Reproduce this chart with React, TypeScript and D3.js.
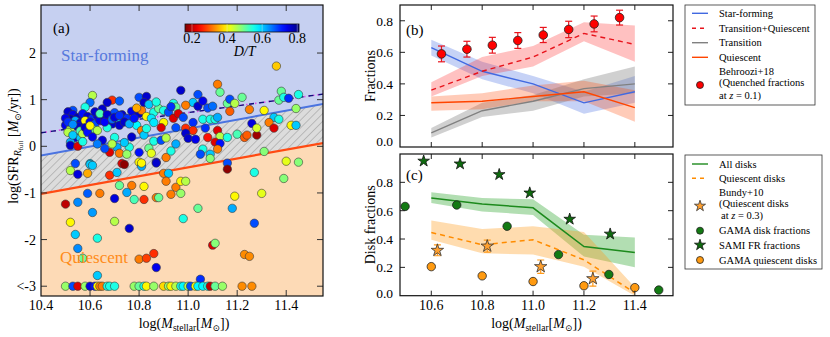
import React from 'react';
import * as d3 from 'd3';

// ---- panel (a): galaxies [log Mstar, log SFR, D/T]
const galaxies: [number, number, number][] = [
  [10.61, 1.09, 0.45], [10.60, 0.94, 0.66], [10.58, 0.84, 0.55], [10.69, 0.99, 0.27], [10.72, 0.97, 0.67],
  [10.67, 0.94, 0.76], [10.80, 1.05, 0.68], [10.83, 1.07, 0.76], [10.82, 0.94, 0.76], [10.97, 1.20, 0.76],
  [10.94, 0.92, 0.55], [10.95, 0.84, 0.50], [10.53, 0.77, 0.68], [10.51, 0.74, 0.76], [10.53, 0.68, 0.74],
  [10.55, 0.62, 0.77], [10.57, 0.70, 0.72], [10.59, 0.64, 0.76], [10.61, 0.60, 0.70], [10.63, 0.66, 0.75],
  [10.52, 0.58, 0.78], [10.54, 0.55, 0.62], [10.56, 0.50, 0.76], [10.58, 0.55, 0.40], [10.60, 0.52, 0.74],
  [10.62, 0.48, 0.68], [10.50, 0.45, 0.74], [10.52, 0.38, 0.45], [10.55, 0.42, 0.76], [10.64, 0.56, 0.74],
  [10.66, 0.60, 0.77], [10.68, 0.65, 0.72], [10.70, 0.72, 0.68], [10.65, 0.80, 0.76], [10.73, 0.68, 0.76],
  [10.75, 0.60, 0.70], [10.71, 0.55, 0.62], [10.69, 0.48, 0.76], [10.67, 0.40, 0.55], [10.77, 0.75, 0.74],
  [10.80, 0.70, 0.76], [10.81, 0.77, 0.32], [10.83, 0.64, 0.40], [10.86, 0.73, 0.55], [10.88, 0.81, 0.50],
  [10.90, 0.77, 0.55], [10.92, 0.73, 0.68], [10.94, 0.60, 0.22], [10.90, 0.51, 0.40], [10.95, 0.40, 0.68],
  [10.89, 0.40, 0.22], [10.85, 0.60, 0.58], [10.86, 0.51, 0.58], [10.79, 0.45, 0.57], [10.81, 0.34, 0.32],
  [10.61, 0.37, 0.50], [10.63, 0.34, 0.45], [10.72, 0.45, 0.76], [10.51, 0.30, 0.45], [10.54, 0.19, 0.75],
  [10.56, 0.19, 0.60], [10.52, 0.09, 0.62], [10.52, 0.02, 0.76], [10.55, 0.00, 0.22], [10.65, 0.13, 0.75],
  [10.70, 0.19, 0.55], [10.76, -0.02, 0.55], [10.71, -0.02, 0.62], [10.68, -0.13, 0.22], [10.72, -0.15, 0.32],
  [10.75, -0.17, 0.47], [10.80, -0.13, 0.72], [10.84, -0.04, 0.50], [10.86, 0.11, 0.55], [10.89, 0.13, 0.68],
  [10.91, -0.24, 0.32], [10.80, -0.34, 0.40], [10.87, -0.34, 0.75], [10.73, -0.37, 0.22], [10.54, -0.37, 0.68],
  [10.60, -0.37, 0.60], [10.82, 0.24, 0.60], [10.91, 0.18, 0.45], [10.83, 0.38, 0.55],
  [10.50, 0.60, 0.74], [10.51, 0.52, 0.70], [10.53, 0.47, 0.64], [10.56, 0.33, 0.52], [10.57, 0.27, 0.45],
  [10.58, 0.40, 0.76], [10.59, 0.30, 0.72], [10.60, 0.44, 0.40], [10.62, 0.74, 0.76], [10.64, 0.70, 0.52],
  [10.66, 0.52, 0.73], [10.67, 0.68, 0.76], [10.69, 0.58, 0.66], [10.70, 0.62, 0.75], [10.72, 0.66, 0.70],
  [10.74, 0.52, 0.76], [10.76, 0.48, 0.62], [10.78, 0.60, 0.72], [10.79, 0.82, 0.35], [10.84, 0.90, 0.60],
  [10.87, 0.95, 0.55], [10.93, 0.85, 0.70], [10.96, 0.70, 0.22], [10.98, 0.62, 0.68], [10.53, 0.24, 0.60],
  [10.57, 0.10, 0.55], [10.61, 0.20, 0.74], [10.63, 0.05, 0.65], [10.66, -0.05, 0.68], [10.69, 0.05, 0.45],
  [10.74, 0.08, 0.60], [10.77, 0.20, 0.76], [10.85, -0.15, 0.42], [10.93, -0.10, 0.55], [10.95, 0.05, 0.62],
  [11.12, 1.33, 0.32], [11.13, 1.16, 0.50], [11.04, 1.11, 0.68], [11.02, 0.94, 0.60], [10.99, 0.88, 0.32],
  [11.04, 0.86, 0.76], [11.06, 0.97, 0.74], [11.08, 0.82, 0.68], [11.10, 0.86, 0.66], [11.16, 0.92, 0.50],
  [11.17, 1.01, 0.68], [11.19, 0.92, 0.45], [11.22, 1.05, 0.50], [11.17, 0.75, 0.30], [11.25, 0.79, 0.32],
  [11.31, 0.77, 0.40], [11.37, 0.99, 0.50], [11.38, 1.18, 0.50], [11.39, 1.05, 0.55], [11.41, 1.03, 0.70],
  [11.45, 1.11, 0.55], [11.44, 0.81, 0.47], [11.35, 0.62, 0.60], [11.37, 0.58, 0.55], [11.33, 0.51, 0.32],
  [11.35, 0.39, 0.22], [11.42, 0.45, 0.40], [11.44, 0.45, 0.60], [11.02, 0.51, 0.70], [11.06, 0.58, 0.55],
  [11.09, 0.58, 0.55], [11.11, 0.58, 0.55], [11.12, 0.62, 0.62], [10.99, 0.39, 0.27], [11.02, 0.34, 0.27],
  [11.07, 0.39, 0.70], [11.12, 0.34, 0.22], [10.99, 0.28, 0.76], [11.00, 0.17, 0.76], [11.03, 0.15, 0.74],
  [11.08, 0.19, 0.25], [11.13, 0.21, 0.45], [11.11, 0.09, 0.22], [11.13, 0.06, 0.72], [11.16, 0.19, 0.55],
  [11.20, 0.26, 0.52], [11.23, 0.19, 0.30], [11.24, 0.24, 0.30], [11.28, 0.24, 0.18], [11.26, 0.49, 0.75],
  [11.28, 0.39, 0.43], [11.06, -0.06, 0.55], [11.05, -0.17, 0.68], [11.09, -0.17, 0.60], [11.12, -0.06, 0.32],
  [11.09, -0.26, 0.48], [11.31, -0.11, 0.48], [11.36, 1.72, 0.37],
  [10.52, -0.52, 0.45], [10.55, -0.60, 0.75], [10.59, -0.58, 0.35], [10.60, -0.39, 0.60], [10.61, -0.41, 0.60],
  [10.74, -0.39, 0.17], [10.68, -0.62, 0.27], [10.71, -0.56, 0.60], [10.81, -0.43, 0.62], [10.81, -0.36, 0.40],
  [10.87, -0.36, 0.76], [10.90, -0.58, 0.32], [10.92, -0.58, 0.60], [10.72, -0.84, 0.50], [10.77, -0.84, 0.32],
  [10.82, -0.86, 0.40], [10.75, -0.99, 0.62], [10.78, -1.14, 0.52], [10.82, -1.14, 0.27], [10.87, -1.10, 0.32],
  [10.88, -1.10, 0.50], [10.91, -0.75, 0.32], [10.95, -0.88, 0.32], [10.97, -0.75, 0.40], [10.97, -1.01, 0.47],
  [10.93, -1.03, 0.32], [10.59, -1.01, 0.67], [10.64, -1.01, 0.32], [10.70, -1.12, 0.75], [10.50, -1.24, 0.20],
  [10.55, -1.20, 0.64], [10.61, -1.42, 0.63], [10.52, -1.63, 0.40], [10.70, -1.61, 0.45], [10.76, -1.76, 0.76],
  [10.54, -1.89, 0.60], [10.63, -1.97, 0.55], [10.55, -2.19, 0.64], [10.57, -2.40, 0.50], [10.80, -2.42, 0.32],
  [10.83, -2.40, 0.28], [10.86, -2.30, 0.27], [10.87, -2.60, 0.74], [10.63, -2.77, 0.60], [10.98, -1.55, 0.55],
  [11.16, -0.36, 0.68], [11.16, -0.49, 0.17], [11.27, -0.56, 0.55], [11.40, -0.32, 0.42], [11.45, -0.34, 0.48],
  [10.99, -0.75, 0.45], [11.39, -0.69, 0.48], [11.19, -1.07, 0.40], [11.30, -1.01, 0.42], [11.18, -1.33, 0.62],
  [11.04, -1.33, 0.50], [11.27, -1.65, 0.68], [11.10, -2.12, 0.22], [11.11, -2.08, 0.48], [11.23, -2.32, 0.33],
  [11.25, -2.36, 0.33], [11.05, -2.85, 0.70],
  // floor at log SFR < -3
  [10.50, -3, 0.47], [10.53, -3, 0.68], [10.55, -3, 0.22], [10.58, -3, 0.47], [10.60, -3, 0.75],
  [10.62, -3, 0.72], [10.63, -3, 0.40], [10.64, -3, 0.32], [10.65, -3, 0.32], [10.67, -3, 0.55],
  [10.68, -3, 0.55], [10.70, -3, 0.55], [10.78, -3, 0.47], [10.80, -3, 0.50], [10.82, -3, 0.55],
  [10.83, -3, 0.40], [10.86, -3, 0.47], [10.90, -3, 0.38], [10.92, -3, 0.47], [10.93, -3, 0.40],
  [10.95, -3, 0.45], [10.97, -3, 0.55], [10.98, -3, 0.57], [11.00, -3, 0.45], [11.01, -3, 0.68],
  [11.03, -3, 0.40], [11.04, -3, 0.57], [11.06, -3, 0.57], [11.08, -3, 0.55], [11.09, -3, 0.20],
  [11.11, -3, 0.50], [11.14, -3, 0.47], [11.22, -3, 0.33], [11.26, -3, 0.33],
];

// boundary lines in panel (a): [log Mstar, log SFR] end points
const sfBoundary: [number, number][] = [[10.4, -0.2], [11.55, 0.91]];
const qBoundary: [number, number][] = [[10.4, -1.02], [11.55, 0.07]];
const ridgeLine: [number, number][] = [[10.4, 0.29], [11.55, 1.12]];

const massTicksA = [10.4, 10.6, 10.8, 11.0, 11.2, 11.4];
const sfrTicks = [2, 1, 0, -1, -2, -3];
const sfrTickLabels = ['2', '1', '0', '-1', '-2', '<-3'];
const dtTicks = [0.2, 0.4, 0.6, 0.8];

// ---- panel (b): fractions per mass bin
const binMass = [10.6, 10.8, 11.0, 11.2, 11.4];
const sfFrac = [0.63, 0.48, 0.40, 0.28, 0.35];
const sfLo = [0.58, 0.43, 0.34, 0.21, 0.28];
const sfHi = [0.68, 0.54, 0.45, 0.35, 0.45];
const tqFrac = [0.36, 0.48, 0.57, 0.72, 0.65];
const tqLo = [0.32, 0.45, 0.51, 0.67, 0.54];
const tqHi = [0.41, 0.57, 0.64, 0.79, 0.77];
const trFrac = [0.09, 0.23, 0.29, 0.37, 0.40];
const trLo = [0.06, 0.19, 0.23, 0.32, 0.34];
const trHi = [0.12, 0.28, 0.33, 0.43, 0.51];
const quFrac = [0.28, 0.29, 0.32, 0.35, 0.25];
const quLo = [0.23, 0.24, 0.29, 0.29, 0.16];
const quHi = [0.32, 0.34, 0.39, 0.42, 0.36];
const behMass = [10.64, 10.74, 10.84, 10.94, 11.04, 11.14, 11.24, 11.34];
const behFrac = [0.59, 0.62, 0.645, 0.675, 0.71, 0.745, 0.78, 0.82];
const behErr = [0.05, 0.05, 0.05, 0.05, 0.048, 0.052, 0.05, 0.047];
const fracTicks = [0.0, 0.2, 0.4, 0.6, 0.8];

// ---- panel (c): disk fractions
const diskFrac = [0.69, 0.647, 0.62, 0.347, 0.305];
const diskLo = [0.654, 0.595, 0.57, 0.276, 0.20];
const diskHi = [0.73, 0.69, 0.68, 0.43, 0.41];
const qDiskFrac = [0.446, 0.36, 0.395, 0.253, 0.02];
const qDiskLo = [0.395, 0.30, 0.29, 0.205, 0.0];
const qDiskHi = [0.53, 0.47, 0.49, 0.45, 0.06];
const bundyMass = [10.624, 10.82, 11.03, 11.235];
const bundyFrac = [0.32, 0.35, 0.205, 0.12];
const bundyErr = [0.038, 0.042, 0.047, 0.053];
const gamaMass = [10.497, 10.70, 10.898, 11.10, 11.298, 11.494];
const gamaFrac = [0.63, 0.64, 0.49, 0.29, 0.15, 0.04];
const samiMass = [10.57, 10.713, 10.867, 10.987, 11.144, 11.303];
const samiFrac = [0.95, 0.93, 0.855, 0.725, 0.54, 0.435];
const gamaQMass = [10.60, 10.80, 11.0, 11.20, 11.40];
const gamaQFrac = [0.205, 0.14, 0.10, 0.07, 0.057];
const massTicksBC = [10.6, 10.8, 11.0, 11.2, 11.4];
const diskTicks = [0.0, 0.2, 0.4, 0.6, 0.8];

const FONT = "'Liberation Serif', 'DejaVu Serif', serif";

// jet colormap, reversed so that low D/T is red
const jet = (t: number) => {
  const c = (v: number) => Math.max(0, Math.min(1, v));
  return d3.rgb(
    255 * c(1.5 - Math.abs(4 * t - 3)),
    255 * c(1.5 - Math.abs(4 * t - 2)),
    255 * c(1.5 - Math.abs(4 * t - 1))
  ).formatHex();
};
const dtNorm = d3.scaleLinear().domain([0.16, 0.81]).range([1, 0]).clamp(true);
const dtColor = (v: number) => jet(dtNorm(v));

const App = () => {
  // panel frames
  const A = { l: 41, r: 323, t: 5, b: 296 };
  const B = { l: 400, r: 673, t: 5, b: 147 };
  const C = { l: 400, r: 673, t: 154, b: 295.7 };

  const xA = d3.scaleLinear().domain([10.4, 11.55]).range([A.l, A.r]);
  const yA = d3.scaleLinear().domain([-3.21, 3.03]).range([A.b, A.t]);
  const xB = d3.scaleLinear().domain([10.477, 11.55]).range([B.l, B.r]);
  const yB = d3.scaleLinear().domain([0, 0.9]).range([B.b, B.t]);
  const yC = d3.scaleLinear().domain([0, 1.0]).range([C.b, C.t]);
  const xDT = d3.scaleLinear().domain([0.16, 0.81]).range([185, 299]);

  const lineA = d3.line<[number, number]>().x(d => xA(d[0])).y(d => yA(d[1]));
  const poly = (pts: [number, number][]) => lineA(pts) + 'Z';
  const [m0, m1] = xA.domain();
  const [s0, s1] = yA.domain();
  const sfRegion = poly([[m0, s1], [m1, s1], sfBoundary[1], sfBoundary[0]]);
  const trRegion = poly([sfBoundary[0], sfBoundary[1], qBoundary[1], qBoundary[0]]);
  const quRegion = poly([qBoundary[0], qBoundary[1], [m1, s0], [m0, s0]]);

  const band = (y: d3.ScaleLinear<number, number>, lo: number[], hi: number[]) =>
    d3.area<number>().x((_, i) => xB(binMass[i])).y0((_, i) => y(lo[i])).y1((_, i) => y(hi[i]))(binMass) || '';
  const curve = (y: d3.ScaleLinear<number, number>, v: number[]) =>
    d3.line<number>().x((_, i) => xB(binMass[i])).y((_, i) => y(v[i]))(binMass) || '';

  const star = (size: number) => d3.symbol().type(d3.symbolStar).size(size)() || '';

  const ticks = (
    frame: { l: number; r: number; t: number; b: number },
    xs: number[], xScale: (v: number) => number,
    ys: number[], yScale: (v: number) => number,
    len = 5, color = '#222'
  ) => (
    <g stroke={color} strokeWidth={1}>
      {xs.map((v, i) => (
        <g key={'x' + i}>
          <line x1={xScale(v)} x2={xScale(v)} y1={frame.b} y2={frame.b - len} />
          <line x1={xScale(v)} x2={xScale(v)} y1={frame.t} y2={frame.t + len} />
        </g>
      ))}
      {ys.map((v, i) => (
        <g key={'y' + i}>
          <line x1={frame.l} x2={frame.l + len} y1={yScale(v)} y2={yScale(v)} />
          <line x1={frame.r} x2={frame.r - len} y1={yScale(v)} y2={yScale(v)} />
        </g>
      ))}
    </g>
  );

  const gradStops = d3.range(0, 1.0001, 0.05);

  const massLabel = (cx: number) => (
    <text x={cx} y={328} textAnchor="middle" fontSize={14}>
      log(<tspan fontStyle="italic">M</tspan>
      <tspan fontSize={9.5} dy={3}>stellar</tspan>
      <tspan dy={-3}>[</tspan>
      <tspan fontStyle="italic">M</tspan>
      <tspan fontSize={9} dy={3}>⊙</tspan>
      <tspan dy={-3}>])</tspan>
    </text>
  );

  return (
    <svg width={830} height={337} style={{ position: 'absolute', left: 0, top: 0, background: '#fff' }}
      fontFamily={FONT}>
      <defs>
        <clipPath id="clipA"><rect x={A.l} y={A.t} width={A.r - A.l} height={A.b - A.t} /></clipPath>
        <clipPath id="clipB"><rect x={B.l} y={B.t} width={B.r - B.l} height={B.b - B.t} /></clipPath>
        <clipPath id="clipC"><rect x={C.l} y={C.t} width={C.r - C.l} height={C.b - C.t} /></clipPath>
        <pattern id="hatch" width={5.5} height={5.5} patternUnits="userSpaceOnUse" patternTransform="rotate(45)">
          <rect width={5.5} height={5.5} fill="#dcdcdc" />
          <line x1={0} y1={0} x2={0} y2={5.5} stroke="#8c8c8c" strokeWidth={0.9} />
        </pattern>
        <linearGradient id="cbar" x1="0" x2="1" y1="0" y2="0">
          {gradStops.map((t, i) => (
            <stop key={i} offset={t} stopColor={jet(1 - t)} />
          ))}
        </linearGradient>
      </defs>

      {/* ---------------- panel (a) ---------------- */}
      <g clipPath="url(#clipA)">
        <path d={sfRegion} fill="#c6d0f1" />
        <path d={trRegion} fill="url(#hatch)" />
        <path d={quRegion} fill="#fddab6" />
        <path d={lineA(sfBoundary) || ''} stroke="#4a73e0" strokeWidth={2} fill="none" />
        <path d={lineA(qBoundary) || ''} stroke="#ff4a12" strokeWidth={2.2} fill="none" />
        <path d={lineA(ridgeLine) || ''} stroke="#e050e8" strokeWidth={1.6} strokeDasharray="1.5,3" fill="none" />
        <path d={lineA(ridgeLine) || ''} stroke="#10107a" strokeWidth={1.4} strokeDasharray="5,5" fill="none" />
        {galaxies.map((g, i) => (
          <circle key={i} cx={xA(g[0])} cy={yA(g[1])} r={4.2} fill={dtColor(g[2])}
            stroke="#3a3a3a" strokeWidth={0.6} />
        ))}
      </g>
      {ticks(A, massTicksA.slice(1), xA, sfrTicks, yA, 6, '#333')}
      <rect x={A.l} y={A.t} width={A.r - A.l} height={A.b - A.t} fill="none" stroke="#111" strokeWidth={1.2} />
      {massTicksA.map(v => (
        <text key={v} x={xA(v)} y={310} textAnchor="middle" fontSize={14}>{v.toFixed(1)}</text>
      ))}
      {sfrTicks.map((v, i) => (
        <text key={v} x={36} y={yA(v) + 5} textAnchor="end" fontSize={14}>{sfrTickLabels[i]}</text>
      ))}
      {massLabel((A.l + A.r) / 2 + 2)}
      <text transform="translate(18,146) rotate(-90)" textAnchor="middle" fontSize={14}>
        log(SFR<tspan fontSize={10} fontStyle="italic" dy={3}>R</tspan>
        <tspan fontSize={7} dy={2}>full</tspan>
        <tspan dy={-5}> [</tspan>
        <tspan fontStyle="italic">M</tspan>
        <tspan fontSize={9} dy={3}>⊙</tspan>
        <tspan dy={-3}>/yr])</tspan>
      </text>
      <text x={53} y={33} fontSize={15}>(a)</text>
      <text x={61} y={61} fontSize={17} fill="#5779dd">Star-forming</text>
      <text x={60} y={263} fontSize={17} fill="#ff8c1a">Quiescent</text>

      {/* colour bar */}
      <rect x={xDT.range()[0]} y={24} width={xDT.range()[1] - xDT.range()[0]} height={8}
        fill="url(#cbar)" stroke="#111" strokeWidth={0.8} />
      {dtTicks.map(v => (
        <g key={v}>
          <line x1={xDT(v)} x2={xDT(v)} y1={24} y2={32} stroke="#eee" strokeWidth={0.6} opacity={0.6} />
          <text x={xDT(v)} y={43} textAnchor="middle" fontSize={14}>{v.toFixed(1)}</text>
        </g>
      ))}
      <text x={xDT(0.5)} y={56} textAnchor="middle" fontSize={14} fontStyle="italic">D/T</text>

      {/* ---------------- panel (b) ---------------- */}
      <g clipPath="url(#clipB)">
        <path d={band(yB, sfLo, sfHi)} fill="royalblue" opacity={0.3} />
        <path d={band(yB, tqLo, tqHi)} fill="#ff2020" opacity={0.28} />
        <path d={band(yB, trLo, trHi)} fill="#777" opacity={0.35} />
        <path d={band(yB, quLo, quHi)} fill="orangered" opacity={0.28} />
        <path d={curve(yB, sfFrac)} stroke="royalblue" strokeWidth={1.4} fill="none" />
        <path d={curve(yB, tqFrac)} stroke="#e8141c" strokeWidth={1.4} strokeDasharray="5,4" fill="none" />
        <path d={curve(yB, trFrac)} stroke="#808080" strokeWidth={1.4} fill="none" />
        <path d={curve(yB, quFrac)} stroke="orangered" strokeWidth={1.4} fill="none" />
        {behMass.map((m, i) => (
          <g key={i} stroke="#e8141c" strokeWidth={1.2}>
            <line x1={xB(m)} x2={xB(m)} y1={yB(behFrac[i] - behErr[i])} y2={yB(behFrac[i] + behErr[i])} />
            <line x1={xB(m) - 3.5} x2={xB(m) + 3.5} y1={yB(behFrac[i] - behErr[i])} y2={yB(behFrac[i] - behErr[i])} />
            <line x1={xB(m) - 3.5} x2={xB(m) + 3.5} y1={yB(behFrac[i] + behErr[i])} y2={yB(behFrac[i] + behErr[i])} />
            <circle cx={xB(m)} cy={yB(behFrac[i])} r={4.3} fill="#ff0000" stroke="#222" strokeWidth={0.8} />
          </g>
        ))}
      </g>
      {ticks(B, massTicksBC, xB, fracTicks.slice(1), yB)}
      <rect x={B.l} y={B.t} width={B.r - B.l} height={B.b - B.t} fill="none" stroke="#111" strokeWidth={1.2} />
      {fracTicks.map(v => (
        <text key={v} x={393} y={Math.min(yB(v) + 5, 146)} textAnchor="end" fontSize={13.5}>{v.toFixed(1)}</text>
      ))}
      <text transform={`translate(375,${(B.t + B.b) / 2}) rotate(-90)`} textAnchor="middle" fontSize={14}>Fractions</text>
      <text x={406} y={35} fontSize={15}>(b)</text>

      {/* legend (b) */}
      <g fontSize={10.5}>
        <rect x={685} y={5} width={130} height={100} fill="#fff" stroke="#333" strokeWidth={0.8} />
        <line x1={692} x2={708} y1={13.3} y2={13.3} stroke="royalblue" strokeWidth={1.4} />
        <text x={719} y={17}>Star-forming</text>
        <line x1={692} x2={708} y1={28.3} y2={28.3} stroke="#e8141c" strokeWidth={1.4} strokeDasharray="4,4" />
        <text x={719} y={32}>Transition+Quiescent</text>
        <line x1={692} x2={708} y1={42.7} y2={42.7} stroke="#808080" strokeWidth={1.4} />
        <text x={719} y={46.4}>Transition</text>
        <line x1={692} x2={708} y1={57.3} y2={57.3} stroke="orangered" strokeWidth={1.4} />
        <text x={719} y={61}>Quiescent</text>
        <circle cx={700} cy={85} r={3.5} fill="#ff0000" stroke="#222" strokeWidth={0.8} />
        <text x={719} y={74.7}>Behroozi+18</text>
        <text x={719} y={86.4}>(Quenched fractions</text>
        <text x={719} y={98.7}>at <tspan fontStyle="italic">z</tspan> = 0.1)</text>
      </g>

      {/* ---------------- panel (c) ---------------- */}
      <g clipPath="url(#clipC)">
        <path d={band(yC, diskLo, diskHi)} fill="#22a022" opacity={0.35} />
        <path d={band(yC, qDiskLo, qDiskHi)} fill="#ff9a1a" opacity={0.35} />
        <path d={curve(yC, diskFrac)} stroke="#1d8a1d" strokeWidth={1.5} fill="none" />
        <path d={curve(yC, qDiskFrac)} stroke="#ff8c00" strokeWidth={1.5} strokeDasharray="5,4" fill="none" />
        {bundyMass.map((m, i) => (
          <g key={i} stroke="#ff9a1a" strokeWidth={1.2}>
            <line x1={xB(m)} x2={xB(m)} y1={yC(bundyFrac[i] - bundyErr[i])} y2={yC(bundyFrac[i] + bundyErr[i])} />
            <line x1={xB(m) - 3.5} x2={xB(m) + 3.5} y1={yC(bundyFrac[i] - bundyErr[i])} y2={yC(bundyFrac[i] - bundyErr[i])} />
            <line x1={xB(m) - 3.5} x2={xB(m) + 3.5} y1={yC(bundyFrac[i] + bundyErr[i])} y2={yC(bundyFrac[i] + bundyErr[i])} />
          </g>
        ))}
        {gamaMass.map((m, i) => (
          <circle key={'g' + i} cx={xB(m)} cy={yC(gamaFrac[i])} r={4.2} fill="#137a13" stroke="#222" strokeWidth={0.8} />
        ))}
        {gamaQMass.map((m, i) => (
          <circle key={'q' + i} cx={xB(m)} cy={yC(gamaQFrac[i])} r={4.2} fill="#ff9a10" stroke="#222" strokeWidth={0.8} />
        ))}
      </g>
      {samiMass.map((m, i) => (
        <path key={'s' + i} d={star(42)} transform={`translate(${xB(m)},${yC(samiFrac[i])})`}
          fill="#0e6b0e" stroke="#111" strokeWidth={0.8} />
      ))}
      {bundyMass.map((m, i) => (
        <path key={'b' + i} d={star(48)} transform={`translate(${xB(m)},${yC(bundyFrac[i])})`}
          fill="#ffa030" stroke="#333" strokeWidth={0.8} />
      ))}
      {ticks(C, massTicksBC, xB, diskTicks.slice(1), yC)}
      <rect x={C.l} y={C.t} width={C.r - C.l} height={C.b - C.t} fill="none" stroke="#111" strokeWidth={1.2} />
      {massTicksBC.map(v => (
        <text key={v} x={xB(v)} y={310} textAnchor="middle" fontSize={14}>{v.toFixed(1)}</text>
      ))}
      {diskTicks.map(v => (
        <text key={v} x={393} y={Math.min(yC(v) + 5, 298)} textAnchor="end" fontSize={13.5}>{v.toFixed(1)}</text>
      ))}
      <text transform={`translate(375,${(C.t + C.b) / 2}) rotate(-90)`} textAnchor="middle" fontSize={14}>Disk fractions</text>
      <text x={406} y={180} fontSize={15}>(c)</text>
      {massLabel((C.l + C.r) / 2)}

      {/* legend (c) */}
      <g fontSize={10.5}>
        <rect x={685} y={155} width={137} height={114} fill="#fff" stroke="#333" strokeWidth={0.8} />
        <line x1={692} x2={708} y1={164} y2={164} stroke="#1d8a1d" strokeWidth={1.4} />
        <text x={719} y={167.7}>All disks</text>
        <line x1={692} x2={708} y1={178.3} y2={178.3} stroke="#ff8c00" strokeWidth={1.4} strokeDasharray="4,4" />
        <text x={719} y={182}>Quiescent disks</text>
        <path d={star(38)} transform="translate(700,206)" fill="#ffa030" stroke="#333" strokeWidth={0.8} />
        <text x={719} y={196.4}>Bundy+10</text>
        <text x={719} y={207}>(Quiescent disks</text>
        <text x={721} y={218.7}>at <tspan fontStyle="italic">z</tspan> = 0.3)</text>
        <circle cx={700} cy={230.7} r={3.5} fill="#137a13" stroke="#222" strokeWidth={0.8} />
        <text x={719} y={234.4}>GAMA disk fractions</text>
        <path d={star(38)} transform="translate(700,245)" fill="#0e6b0e" stroke="#111" strokeWidth={0.8} />
        <text x={719} y={248.7}>SAMI FR fractions</text>
        <circle cx={700} cy={260} r={3.5} fill="#ff9a10" stroke="#222" strokeWidth={0.8} />
        <text x={719} y={263.7}>GAMA quiescent disks</text>
      </g>
    </svg>
  );
};

export default App;
